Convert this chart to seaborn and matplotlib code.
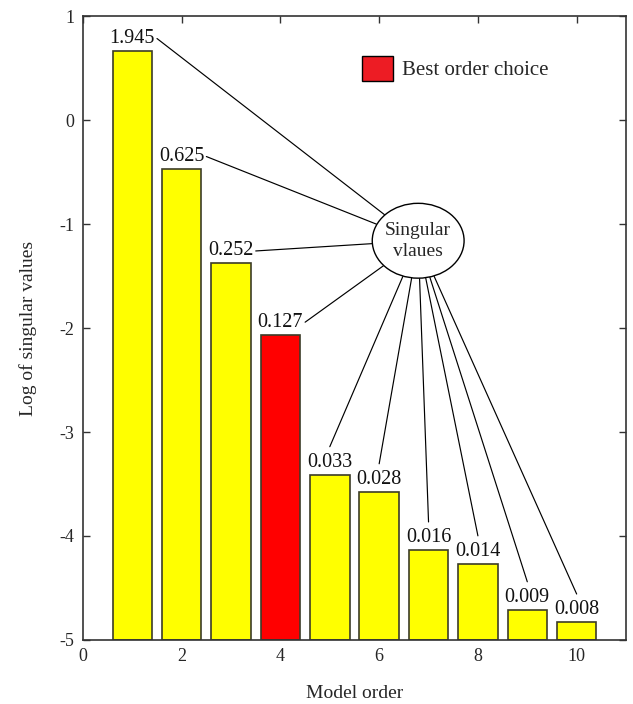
import numpy as np
import pandas as pd
import matplotlib
matplotlib.use("Agg")
import matplotlib.pyplot as plt
from matplotlib.patches import Ellipse, Patch
import seaborn as sns

# Model orders and their singular values
orders = [1, 2, 3, 4, 5, 6, 7, 8, 9, 10]
singular_values = [1.945, 0.625, 0.252, 0.127, 0.033, 0.028, 0.016, 0.014, 0.009, 0.008]
best_order = 4
y_floor = -5
x_ticks = [0, 2, 4, 6, 8, 10]
x_tick_labels = ["0", "2", "4", "6", "8", "10"]
y_ticks = [-5, -4, -3, -2, -1, 0, 1]

sns.set_style("ticks")
plt.rcParams["font.family"] = ["Liberation Serif", "DejaVu Serif"]
plt.rcParams["axes.unicode_minus"] = False

log_sv = np.log(singular_values)
df = pd.DataFrame({
    "order": orders,
    "height": log_sv - y_floor,
    "choice": ["Best" if o == best_order else "Other" for o in orders],
})

fig = plt.figure(figsize=(6.33, 7.04), dpi=100)
ax = fig.add_axes([0.131, 0.091, 0.858, 0.886])

sns.barplot(data=df, x="order", y="height", hue="choice",
            palette={"Best": "#FF0000", "Other": "#FFFF00"},
            native_scale=True, dodge=False, width=0.8, saturation=1,
            errorbar=None, legend=False, bottom=y_floor,
            edgecolor="#3c3c28", linewidth=1.2, ax=ax)

ax.set_xlim(0, 11)
ax.set_ylim(y_floor, 1)
ax.set_xticks(x_ticks)
ax.set_xticklabels(x_tick_labels)
ax.set_yticks(y_ticks)
ax.set_yticklabels([str(t) for t in y_ticks])
ax.tick_params(direction="in", top=True, right=True, length=5, width=1,
               labelsize=13, pad=6, color="#333333")
ax.tick_params(axis="x", bottom=False)
for sp in ax.spines.values():
    sp.set_visible(True)
    sp.set_color("#333333")
    sp.set_linewidth(1.2)

ax.set_xlabel("Model order", fontsize=14, labelpad=14)
ax.set_ylabel("Log of singular values", fontsize=14, labelpad=16)

# Callout ellipse
center = (6.79, -1.16)
ell = Ellipse(center, width=1.86, height=0.72, facecolor="white",
              edgecolor="black", linewidth=1.0, zorder=6)
ax.add_patch(ell)
ax.text(center[0], center[1], "Singular\nvlaues", ha="center", va="center",
        fontsize=14, linespacing=1.3, zorder=7)

# Value labels with leader lines into the ellipse
for i, (o, v, lv) in enumerate(zip(orders, singular_values, log_sv)):
    ax.text(o, lv + 0.03, f"{v:.3f}", ha="center", va="bottom",
            fontsize=14.5, color="#111111", zorder=5)
    if i < 4:
        start = (o + 0.5, lv + 0.12)
    else:
        start = (o, lv + 0.27)
    ax.annotate("", xy=start, xytext=center,
                arrowprops=dict(arrowstyle="-", color="black", lw=0.85,
                                patchA=ell, shrinkA=0, shrinkB=0),
                zorder=4)

leg = ax.legend(handles=[Patch(facecolor="#ED1C24", edgecolor="black",
                               label="Best order choice")],
                loc="upper left", bbox_to_anchor=(0.514, 0.936),
                frameon=False, fontsize=15, handlelength=1.5,
                handleheight=1.45, handletextpad=0.4, borderpad=0,
                borderaxespad=0)

fig.savefig("out.png", dpi=100, facecolor="white")
